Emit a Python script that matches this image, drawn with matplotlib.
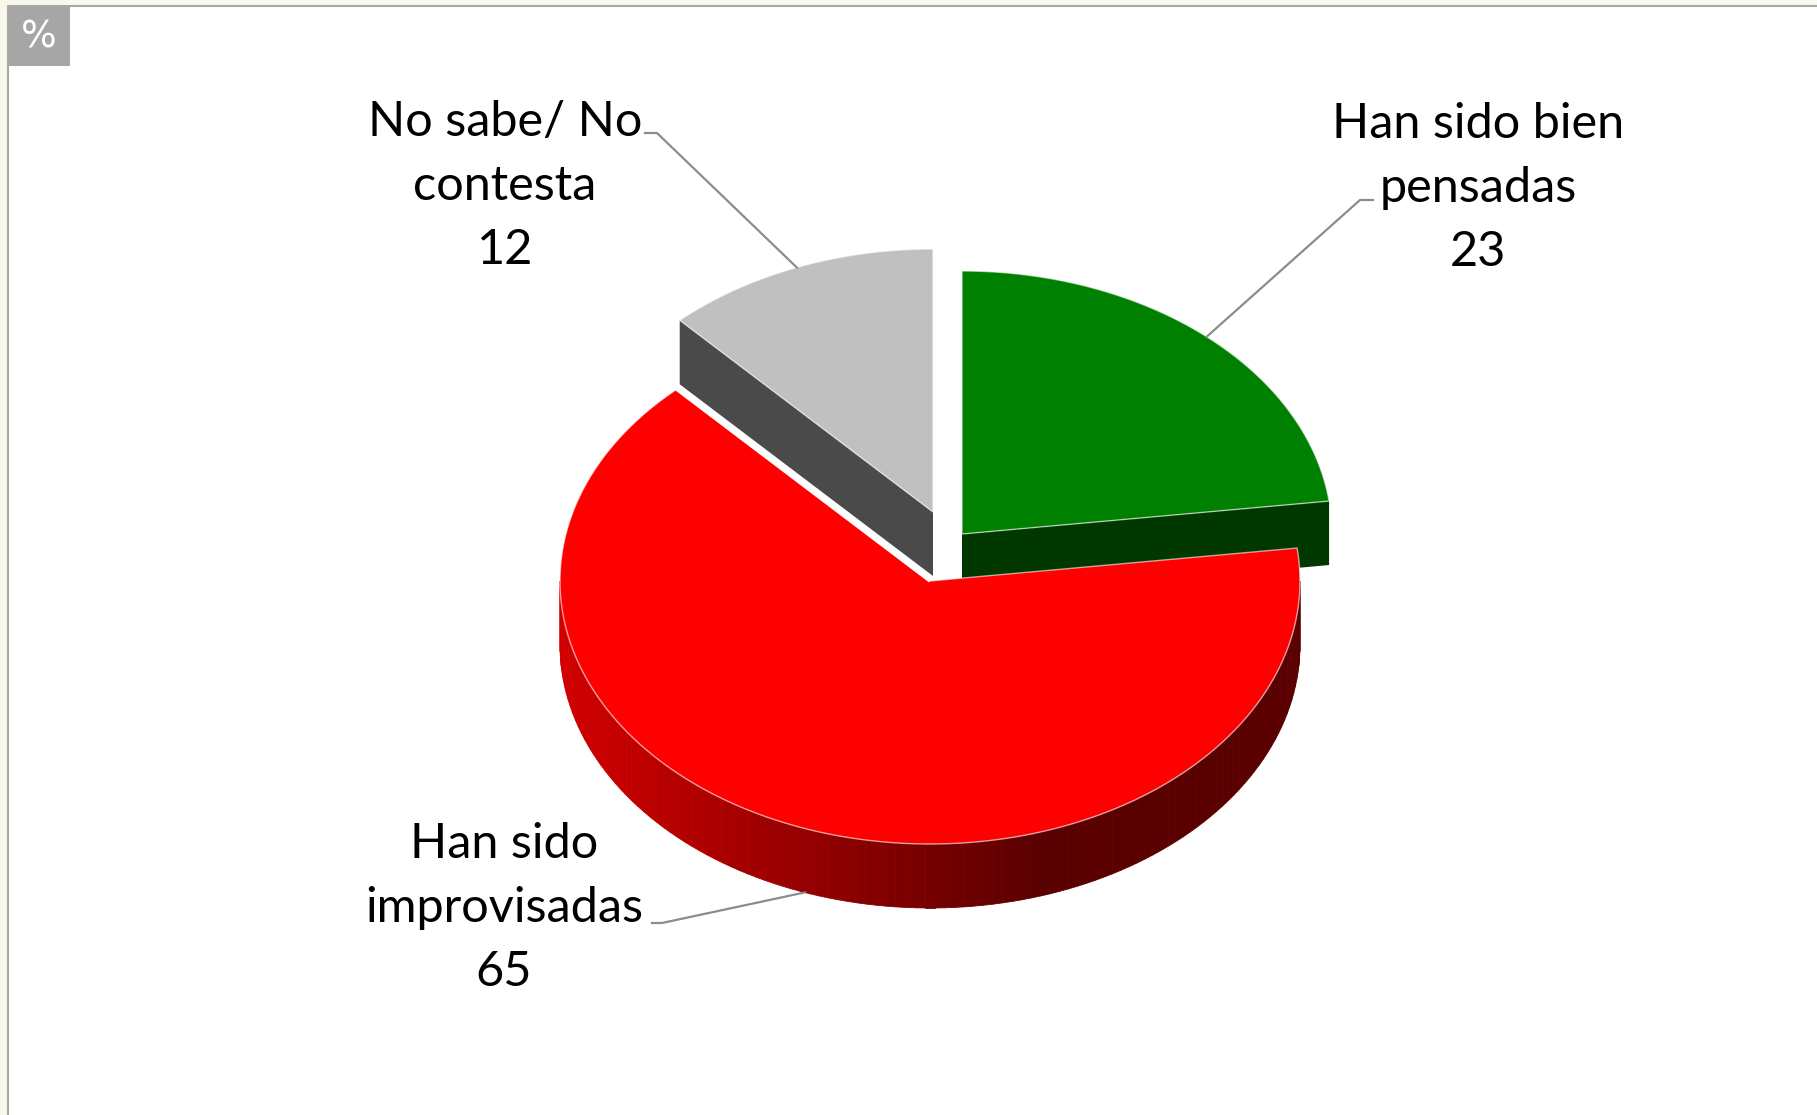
import numpy as np
import matplotlib.pyplot as plt
from matplotlib.patches import Polygon, Rectangle
from matplotlib.colors import to_rgb

plt.rcParams['font.family'] = ['Lato', 'DejaVu Sans']

# data
labels = ['Han sido bien\npensadas', 'Han sido\nimprovisadas', 'No sabe/ No\ncontesta']
values = [23, 65, 12]
top_colors = ['#008000', '#FF0000', '#C0C0C0']
side_light = ['#004A00', '#D20000', '#555555']
side_dark = ['#003800', '#5A0000', '#4A4A4A']

# geometry of the fake 3d pie, in pixels
CX, CY = 930, 581
RX, RY = 370, 263
DEPTH = 64
explode = [(32, -47), (0, 0), (3, -69)]
label_pos = [(1478, 188), (504, 908), (505, 186)]
elbows = [((1360, 200), (1373, 200)), ((662, 923), (652, 923)), ((657, 133), (645, 133))]
draw_order = [2, 0, 1]

fig = plt.figure(figsize=(18.17, 11.15), dpi=100)
fig.patch.set_facecolor('#FAF8EB')
ax = fig.add_axes([0, 0, 1, 1])
ax.set_xlim(0, 1817)
ax.set_ylim(1115, 0)
ax.axis('off')

ax.add_patch(Rectangle((8, 6), 1830, 1130, facecolor='white', edgecolor='#A8A8A8', lw=1.5, zorder=0))
ax.add_patch(Rectangle((8, 7), 62, 59, facecolor='#A6A6A6', edgecolor='none', zorder=1))
ax.text(39, 38, '%', color='white', fontsize=27, ha='center', va='center', family='DejaVu Sans')


def pt(cx, cy, th):
    r = np.radians(th)
    return cx + RX * np.sin(r), cy - RY * np.cos(r)


total = float(sum(values))
bounds = np.concatenate([[0], np.cumsum(values)]) / total * 360

for i in draw_order:
    t1, t2 = bounds[i], bounds[i + 1]
    cx, cy = CX + explode[i][0], CY + explode[i][1]
    z = 2 + draw_order.index(i) * 3

    # outer rim (front half only) with a left-to-right shading
    lo, hi = max(t1, 90), min(t2, 270)
    if lo < hi:
        c0, c1 = np.array(to_rgb(side_light[i])), np.array(to_rgb(side_dark[i]))
        ths = np.linspace(hi, lo, 120)
        for a0, a1 in zip(ths[:-1], ths[1:]):
            x0, y0 = pt(cx, cy, a0)
            x1, y1 = pt(cx, cy, a1)
            f = min(1.0, ((x0 + x1) / 2 - (cx - RX)) / (1.3 * RX))
            col = c0 + (c1 - c0) * f
            ax.add_patch(Polygon([(x0, y0), (x1, y1), (x1, y1 + DEPTH), (x0, y0 + DEPTH)],
                                 closed=True, facecolor=col, edgecolor=col, lw=0.6, zorder=z))

    # radial side faces that turn toward the viewer
    for th, nrm in ((t1, t1 - 90), (t2, t2 + 90)):
        if np.cos(np.radians(nrm)) < -1e-6:
            px, py = pt(cx, cy, th)
            ax.add_patch(Polygon([(cx, cy), (px, py), (px, py + DEPTH), (cx, cy + DEPTH)],
                                 closed=True, facecolor=side_dark[i], edgecolor='none', zorder=z + 1))

    # top face
    arc = [pt(cx, cy, a) for a in np.linspace(t1, t2, 200)]
    ax.add_patch(Polygon([(cx, cy)] + arc, closed=True, facecolor=top_colors[i],
                         edgecolor=(1, 1, 1, 0.6), lw=1.0, zorder=z + 2))
    if i == 1:
        px, py = pt(cx, cy, t2)
        ax.plot([cx, px], [cy, py], color='white', lw=2.5, zorder=z + 2, solid_capstyle='butt')

    # leader line + label
    mid = (t1 + t2) / 2
    ax_, ay_ = pt(cx, cy, mid)
    if np.cos(np.radians(mid)) < 0:
        ay_ += DEPTH
    (ex, ey), (sx, sy) = elbows[i]
    ax.plot([ax_, ex, sx], [ay_, ey, sy], color='#8C8C8C', lw=1.6, zorder=20)
    ax.text(label_pos[i][0], label_pos[i][1], '%s\n%d' % (labels[i], values[i]),
            ha='center', va='center', fontsize=35, linespacing=1.55, color='black', zorder=21)

fig.savefig('out.png', dpi=100, facecolor=fig.get_facecolor())
